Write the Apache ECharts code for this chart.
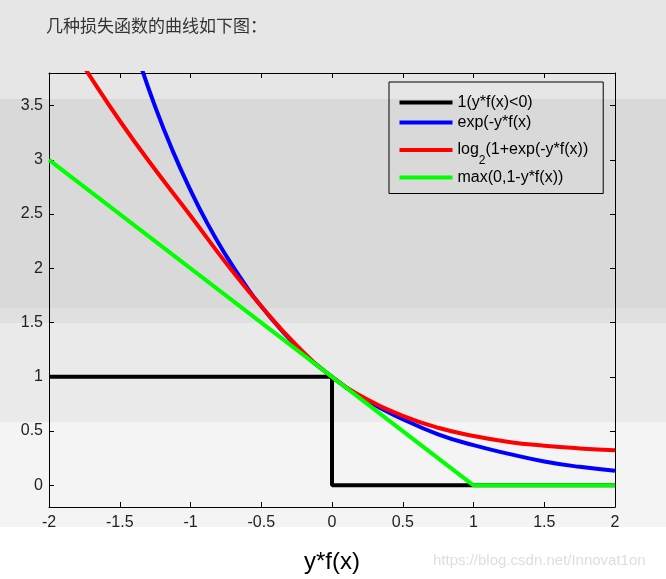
<!DOCTYPE html>
<html>
<head>
<meta charset="utf-8">
<script src="https://cdn.jsdelivr.net/npm/echarts@6/dist/echarts.min.js"></script>
<style>
  html, body { margin: 0; padding: 0; background: #ffffff; }
  #chart {
    width: 666px; height: 579px;
    background: linear-gradient(to bottom,
      #e6e6e6 0px, #e6e6e6 99px,
      #d9d9d9 99px, #d9d9d9 308px,
      #e0e0e0 308px, #e0e0e0 323px,
      #eaeaea 323px, #eaeaea 422px,
      #f4f4f4 422px, #f4f4f4 527px,
      #ffffff 527px, #ffffff 579px);
  }
</style>
</head>
<body>
<div id="chart"></div>
<script>
// ---- data ----
const expX     = [-1.5, -1.375, -1.25, -1.125, -1, -0.875, -0.75, -0.625, -0.5, -0.25, 0, 0.25, 0.5, 0.75, 1, 1.25, 1.5, 1.75, 2];
const expLoss  = [4.48, 3.96, 3.49, 3.08, 2.72, 2.40, 2.12, 1.87, 1.65, 1.28, 1.0, 0.78, 0.61, 0.47, 0.37, 0.29, 0.22, 0.17, 0.135];
const logX     = [-2, -1.75, -1.5, -1.25, -1, -0.75, -0.5, -0.25, 0, 0.25, 0.5, 0.75, 1, 1.25, 1.5, 1.75, 2];
const logLoss  = [4.35, 3.85, 3.36, 2.91, 2.485, 2.05, 1.65, 1.29, 1.0, 0.79, 0.64, 0.53, 0.455, 0.40, 0.365, 0.34, 0.323];
const stepX    = [-2, 0, 0, 2];
const stepY    = [1, 1, 0, 0];
const hingeX   = [-2, 1, 2];
const hingeY   = [3, 0, 0];
const yTickValues = [0, 0.5, 1, 1.5, 2, 2.5, 3, 3.5];
const seriesNames = ['1(y*f(x)<0)', 'exp(-y*f(x)', 'log2(1+exp(-y*f(x))', 'max(0,1-y*f(x))'];
const seriesColors = ['#000000', '#0000ff', '#ff0000', '#00ff00'];

const zip = (a, b) => a.map((v, i) => [v, b[i]]);
const FONT = 'Liberation Sans, Arial, sans-serif';

const chart = echarts.init(document.getElementById('chart'), null, { renderer: 'canvas' });

const axisCommon = {
  axisLine: { show: true, onZero: false, lineStyle: { color: '#000', width: 1 } },
  axisTick: { show: true, inside: true, length: 5, lineStyle: { color: '#000', width: 1 } },
  splitLine: { show: false }
};

const option = {
  animation: false,
  backgroundColor: 'transparent',
  title: {
    text: '几种损失函数的曲线如下图：',
    left: 41, top: 12,
    textStyle: { fontFamily: 'Noto Sans CJK SC, sans-serif', fontSize: 17, fontWeight: 'normal', color: '#333' }
  },
  graphic: [{
    type: 'text', left: 433, top: 553, silent: true,
    style: { text: 'https://blog.csdn.net/Innovat1on', font: '15px ' + FONT, fill: '#dedede' }
  }],
  grid: { left: 49, right: 51, top: 73, bottom: 60, containLabel: false },
  legend: {
    orient: 'vertical', left: 389, top: 82,
    padding: [11.5, 15, 7, 10.5], itemGap: 2,
    borderColor: '#000', borderWidth: 1, backgroundColor: 'transparent',
    itemWidth: 53, itemHeight: 4, icon: 'rect',
    data: seriesNames,
    formatter: function (name) {
      if (name.indexOf('log2') === 0) return '{n|log}{s|2}{n|' + name.slice(4) + '}';
      return name;
    },
    textStyle: {
      fontFamily: FONT, fontSize: 16, color: '#000', lineHeight: 18,
      rich: {
        n: { fontFamily: FONT, fontSize: 16, color: '#000', lineHeight: 33 },
        s: { fontFamily: FONT, fontSize: 12, color: '#000', lineHeight: 22, verticalAlign: 'bottom' }
      }
    }
  },
  xAxis: [
    Object.assign({}, axisCommon, {
      type: 'value', position: 'bottom', min: -2, max: 2, interval: 0.5,
      name: 'y*f(x)', nameLocation: 'middle', nameGap: 43,
      nameTextStyle: { fontFamily: FONT, fontSize: 24, color: '#000' },
      axisLabel: { margin: 8, fontFamily: FONT, fontSize: 16, color: '#222' }
    }),
    Object.assign({}, axisCommon, {
      type: 'value', position: 'top', min: -2, max: 2, interval: 0.5,
      axisLabel: { show: false }
    })
  ],
  yAxis: [
    Object.assign({}, axisCommon, {
      type: 'value', position: 'left', min: -0.2, max: 3.8,
      axisTick: Object.assign({}, axisCommon.axisTick, { customValues: yTickValues }),
      axisLabel: {
        margin: 6, fontFamily: FONT, fontSize: 16, color: '#222',
        customValues: yTickValues,
        formatter: function (v) { return (Math.abs(v * 2 - Math.round(v * 2)) < 1e-6) ? String(v) : ''; }
      }
    }),
    Object.assign({}, axisCommon, {
      type: 'value', position: 'right', min: -0.2, max: 3.8,
      axisTick: Object.assign({}, axisCommon.axisTick, { customValues: yTickValues }),
      axisLabel: { show: false }
    })
  ],
  series: [
    {
      name: seriesNames[0], type: 'line', data: zip(stepX, stepY),
      showSymbol: false, symbol: 'none', lineStyle: { width: 4, color: seriesColors[0] },
      itemStyle: { color: seriesColors[0] }, z: 2
    },
    {
      name: seriesNames[1], type: 'line', data: zip(expX, expLoss),
      smooth: 0.5,
      showSymbol: false, symbol: 'none', lineStyle: { width: 4, color: seriesColors[1] },
      itemStyle: { color: seriesColors[1] }, z: 3
    },
    {
      name: seriesNames[2], type: 'line', data: zip(logX, logLoss),
      smooth: 0.5,
      showSymbol: false, symbol: 'none', lineStyle: { width: 4, color: seriesColors[2] },
      itemStyle: { color: seriesColors[2] }, z: 4
    },
    {
      name: seriesNames[3], type: 'line', data: zip(hingeX, hingeY),
      showSymbol: false, symbol: 'none', lineStyle: { width: 4, color: seriesColors[3] },
      itemStyle: { color: seriesColors[3] }, z: 5
    }
  ]
};
chart.setOption(option);
</script>
</body>
</html>
